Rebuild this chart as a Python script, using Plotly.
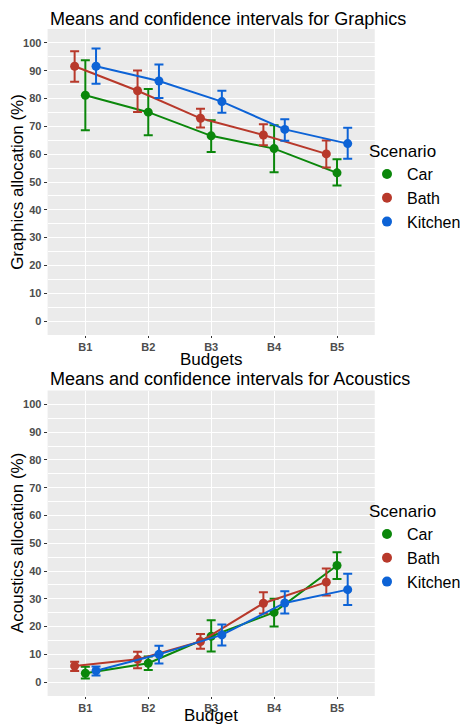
import numpy as np
import plotly.graph_objects as go

# ---------------- data ----------------
budgets = ["B1", "B2", "B3", "B4", "B5"]
scenarios = ["Car", "Bath", "Kitchen"]

graphics_mean = {
    "Car":     [81.2, 75.1, 66.6, 62.0, 53.3],
    "Bath":    [91.6, 82.8, 72.9, 66.9, 60.1],
    "Kitchen": [91.6, 86.3, 78.9, 68.9, 63.8],
}
graphics_lo = {
    "Car":     [68.6, 66.8, 60.8, 53.5, 48.7],
    "Bath":    [86.0, 75.2, 69.6, 63.2, 55.2],
    "Kitchen": [85.3, 80.2, 74.9, 64.8, 58.4],
}
graphics_hi = {
    "Car":     [93.8, 83.4, 72.2, 70.4, 58.2],
    "Bath":    [97.0, 90.1, 76.3, 70.8, 64.9],
    "Kitchen": [98.0, 92.2, 82.8, 72.6, 69.5],
}

acoustics_mean = {
    "Car":     [3.2, 6.8, 16.5, 25.1, 42.0],
    "Bath":    [5.8, 8.2, 14.6, 28.4, 36.0],
    "Kitchen": [4.1, 10.0, 17.0, 28.5, 33.3],
}
acoustics_lo = {
    "Car":     [1.3, 4.4, 11.0, 20.0, 37.1],
    "Bath":    [4.0, 5.0, 12.0, 24.7, 31.2],
    "Kitchen": [2.4, 6.7, 13.2, 24.7, 27.8],
}
acoustics_hi = {
    "Car":     [5.5, 9.2, 22.3, 30.0, 46.8],
    "Bath":    [7.3, 10.9, 17.3, 32.4, 40.9],
    "Kitchen": [5.6, 13.1, 20.7, 32.7, 39.0],
}

y_ticks = [0, 10, 20, 30, 40, 50, 60, 70, 80, 90, 100]

# ---------------- style ----------------
colors = {"Car": "#0b870b", "Bath": "#b8392b", "Kitchen": "#0d63d6"}
dodge = {"Car": 0.0, "Bath": -0.17, "Kitchen": 0.17}
W, H = 466, 727
FONT = "Liberation Sans, Arial, Helvetica, sans-serif"

fig = go.Figure()
xbase = np.arange(1, len(budgets) + 1)


def add_panel(mean, lo, hi, xa, ya, legend):
    for s in scenarios:
        m = np.array(mean[s]); l = np.array(lo[s]); h = np.array(hi[s])
        fig.add_trace(go.Scatter(
            x=xbase + dodge[s], y=m, mode="lines+markers", name=s,
            xaxis=xa, yaxis=ya, showlegend=False, legend=legend,
            line=dict(color=colors[s], width=2),
            marker=dict(color=colors[s], size=9),
            error_y=dict(type="data", symmetric=False, array=h - m,
                         arrayminus=m - l, width=4.5, thickness=2,
                         color=colors[s]),
            hoverinfo="x+y",
        ))
    for s in scenarios:
        fig.add_trace(go.Scatter(
            x=[None], y=[None], mode="markers", name=s,
            xaxis=xa, yaxis=ya, legend=legend, showlegend=True,
            marker=dict(color=colors[s], size=10),
        ))


add_panel(graphics_mean, graphics_lo, graphics_hi, "x", "y", "legend")
add_panel(acoustics_mean, acoustics_lo, acoustics_hi, "x2", "y2", "legend2")

x0, x1 = 48 / W, 378 / W
top_dom = [1 - 335 / H, 1 - 29 / H]
bot_dom = [1 - 696 / H, 1 - 390.5 / H]

xcommon = dict(
    range=[0.4, 5.6], tickmode="array", tickvals=list(xbase), ticktext=budgets,
    showgrid=True, gridcolor="white", gridwidth=1.2, zeroline=False,
    ticks="outside", ticklen=2, tickcolor="#333333", tickwidth=1,
    tickfont=dict(family=FONT, size=11, color="#4d4d4d", weight="bold"),
    showline=False, automargin=False, fixedrange=True,
)
ycommon = dict(
    range=[-5, 105], tickmode="array", tickvals=y_ticks,
    showgrid=True, gridcolor="white", gridwidth=1.2, zeroline=False,
    minor=dict(dtick=5, tick0=5, showgrid=True, gridcolor="white", gridwidth=0.6),
    ticks="outside", ticklen=3, tickcolor="#333333", tickwidth=1,
    tickfont=dict(family=FONT, size=11, color="#4d4d4d", weight="bold"),
    showline=False, automargin=False, fixedrange=True,
)

leg = dict(
    title=dict(text="Scenario", font=dict(size=17, family=FONT)),
    font=dict(size=16, family=FONT), x=0.795, xanchor="left",
    yanchor="top", bgcolor="rgba(0,0,0,0)", tracegroupgap=0, itemwidth=30,
)

fig.update_layout(
    width=W, height=H,
    margin=dict(l=0, r=0, t=0, b=0),
    paper_bgcolor="white",
    plot_bgcolor="#ebebeb",
    font=dict(family=FONT, color="black"),
    xaxis=dict(xcommon, domain=[x0, x1], anchor="y"),
    yaxis=dict(ycommon, domain=top_dom, anchor="x"),
    xaxis2=dict(xcommon, domain=[x0, x1], anchor="y2"),
    yaxis2=dict(ycommon, domain=bot_dom, anchor="x2"),
    legend=dict(leg, y=1 - 135 / H),
    legend2=dict(leg, y=1 - 495 / H),
    showlegend=True,
)

ann = dict(xref="paper", yref="paper", showarrow=False, font=dict(family=FONT, size=18, color="black"))
fig.add_annotation(ann, text="Means and confidence intervals for Graphics",
                   x=x0, xanchor="left", y=1 - 19 / H, yanchor="middle")
fig.add_annotation(ann, text="Means and confidence intervals for Acoustics",
                   x=x0, xanchor="left", y=1 - 379 / H, yanchor="middle")
fig.add_annotation(ann, text="Budgets", x=(x0 + x1) / 2, xanchor="center",
                   y=1 - 360 / H, yanchor="middle", font=dict(family=FONT, size=17, color="black"))
fig.add_annotation(ann, text="Budget", x=(x0 + x1) / 2, xanchor="center",
                   y=0, yanchor="bottom", font=dict(family=FONT, size=17, color="black"))
fig.add_annotation(ann, text="Graphics allocation (%)", x=17 / W, xanchor="center",
                   y=sum(top_dom) / 2, yanchor="middle", textangle=-90,
                   font=dict(family=FONT, size=17, color="black"))
fig.add_annotation(ann, text="Acoustics allocation (%)", x=17 / W, xanchor="center",
                   y=sum(bot_dom) / 2, yanchor="middle", textangle=-90,
                   font=dict(family=FONT, size=17, color="black"))

fig.write_html("out.html", config={"displayModeBar": False},
               post_script="document.body.style.margin='0';document.body.style.overflow='hidden';")
